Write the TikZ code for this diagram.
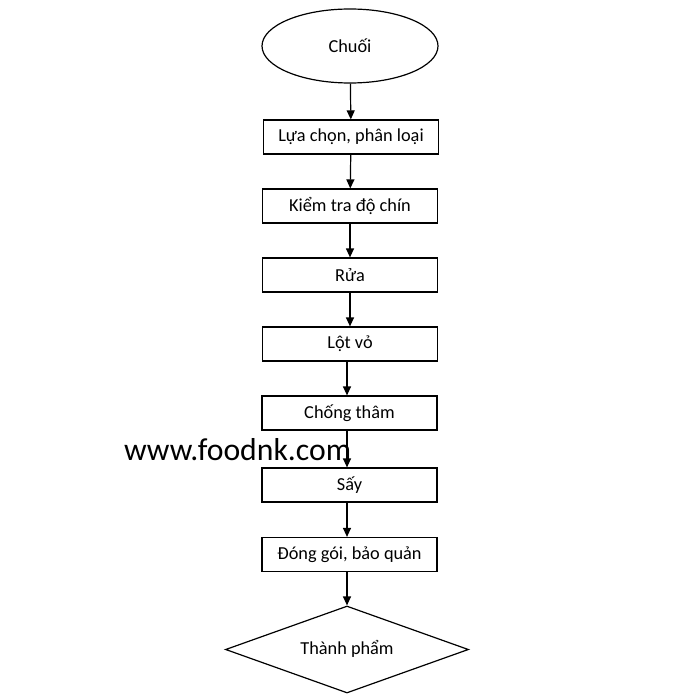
\documentclass[tikz,border=0pt]{standalone}
\usepackage{fontspec}
\setmainfont{Carlito}
\usetikzlibrary{shapes.geometric,arrows.meta}
\begin{document}
\begin{tikzpicture}[x=1pt,y=-1pt,
  every node/.style={font=\fontsize{18.3}{21}\selectfont, text=black},
  stepbox/.style={draw=black, line width=1.2pt, rectangle, minimum width=175pt, minimum height=34pt, inner sep=0pt},
  arr/.style={draw=black, line width=1.2pt, -{Triangle[length=9pt,width=8pt]}},
]
\useasboundingbox[fill=white] (0,0) rectangle (696,698);
\node[draw=black, line width=1.2pt, ellipse, minimum width=176pt, minimum height=74pt, inner sep=0pt] (s) at (350,46) {Chuối};
\node[stepbox] (b1) at (351,137) {Lựa chọn, phân loại};
\node[stepbox] (b2) at (350,206) {Kiểm tra độ chín};
\node[stepbox] (b3) at (350,275) {Rửa};
\node[stepbox] (b4) at (350,344) {Lột vỏ};
\node[stepbox] (b5) at (349.5,413) {Chống thâm};
\node[stepbox] (b6) at (349.5,485) {Sấy};
\node[stepbox] (b7) at (349.5,554.5) {Đóng gói, bảo quản};
\node[draw=black, line width=1.2pt, diamond, aspect=2.79, minimum width=243pt, minimum height=87pt, inner sep=0pt] (d) at (347,649.5) {\raisebox{4pt}{Thành phẩm}};
\draw[arr] (s) -- (b1);
\draw[arr] (b1) -- (b2);
\draw[arr] (b2) -- (b3);
\draw[arr] (b3) -- (b4);
\draw[arr] (b4.south -| d.north) -- (b5.north -| d.north);
\draw[arr] (b5.south -| d.north) -- (b6.north -| d.north);
\draw[arr] (b6.south -| d.north) -- (b7.north -| d.north);
\draw[arr] (b7.south -| d.north) -- (d.north);
\node[anchor=base west, inner sep=0pt, font=\fontsize{31.7}{36}\selectfont] (w) at (124,460) {www.foodnk.com};
\end{tikzpicture}
\end{document}
